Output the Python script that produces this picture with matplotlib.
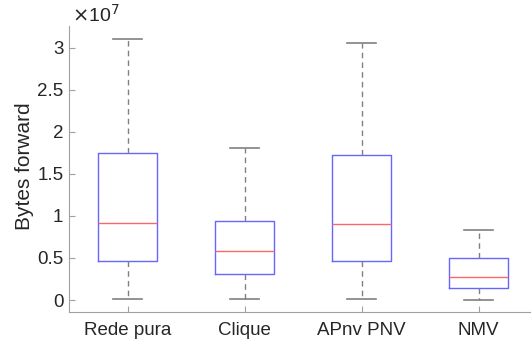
import numpy as np
import matplotlib.pyplot as plt

plt.rcParams['font.family'] = ['Liberation Sans', 'DejaVu Sans']

groups = ['Rede pura', 'Clique', 'APnv PNV', 'NMV']
# values in units of 1e7 bytes
whislo = [0.012, 0.012, 0.012, 0.0]
q1 = [0.464, 0.306, 0.464, 0.143]
med = [0.917, 0.583, 0.905, 0.274]
q3 = [1.746, 0.944, 1.72, 0.496]
whishi = [3.10, 1.81, 3.06, 0.83]
yticks = [0, 0.5, 1, 1.5, 2, 2.5, 3]

stats = []
for i in range(len(groups)):
    stats.append({'label': groups[i], 'whislo': whislo[i], 'q1': q1[i],
                  'med': med[i], 'q3': q3[i], 'whishi': whishi[i], 'fliers': []})

fig = plt.figure(figsize=(5.31, 3.43), dpi=100)
ax = fig.add_axes([69/531, 1 - 312.3/343, (537 - 69)/531, (312.3 - 26)/343])

ax.bxp(stats, positions=[1, 2, 3, 4], widths=0.5, showfliers=False,
       boxprops=dict(color='#6666ff', linewidth=1.0),
       medianprops=dict(color='#ff6666', linewidth=1.0),
       whiskerprops=dict(color='#808080', linestyle=(0, (4, 3)), linewidth=1.0),
       capprops=dict(color='#808080', linewidth=1.2, ),
       capwidths=0.25)

ax.set_xlim(0.5, 4.5)
ax.set_ylim(-0.146, 3.26)
ax.set_yticks(yticks)
ax.set_yticklabels(['0', '0.5', '1', '1.5', '2', '2.5', '3'])
ax.spines['top'].set_visible(False)
ax.spines['right'].set_visible(False)
for s in ['left', 'bottom']:
    ax.spines[s].set_color('#a0a0a0')
ax.tick_params(direction='in', length=4, color='#a0a0a0', labelcolor='#262626',
               labelsize=13.5)
ax.tick_params(axis='y', pad=4)
ax.tick_params(axis='x', pad=7)
ax.set_ylabel('Bytes forward', fontsize=15, color='#262626')
ax.yaxis.set_label_coords(-0.075, 0.51)
ax.text(3/468, 4/286, r'$\times$10$^{7}$', transform=ax.transAxes, fontsize=14,
        color='#262626', ha='left', va='baseline')
ax.texts[-1].set_position((3/468, 1 + 4/286))

fig.savefig('out.png', dpi=100)
